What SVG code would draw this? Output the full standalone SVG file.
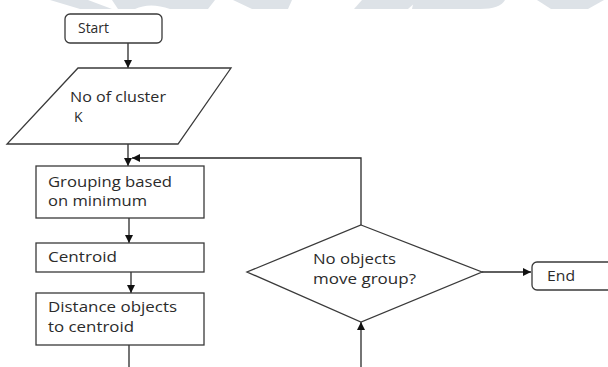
<svg xmlns="http://www.w3.org/2000/svg" width="608" height="367" viewBox="0 0 608 367">
<style>
.bg{fill:#ffffff}
.wm{fill:#dde2e7}
.shape{fill:#ffffff;stroke:#3a3a3a;stroke-width:1.3}
.line{fill:none;stroke:#2a2a2a;stroke-width:1.3}
.t{font-family:"Open Sans","Liberation Sans",sans-serif;font-size:14px;fill:#2b2b2b}
</style>
<defs>
<marker id="ah" viewBox="0 0 10 10" refX="10" refY="5" markerWidth="8" markerHeight="8" markerUnits="userSpaceOnUse" orient="auto">
<path d="M0,0 L10,5 L0,10 z" fill="#111"/>
</marker>
</defs>
<rect class="bg" x="0" y="0" width="608" height="367"/>
<g id="watermark">
<polygon class="wm" points="50,0 88,0 112,9 80,9"/>
<path class="wm" d="M112,0 L215,0 L208,9 L170,9 Q150,2 135,9 L118,9 z"/>
<polygon class="wm" points="233,0 292,0 288,9 252,9"/>
<polygon class="wm" points="362,0 418,0 408,9 354,9"/>
<path class="wm" d="M414,0 L505,0 Q500,9 480,9 L412,9 z"/>
<polygon class="wm" points="537,0 604,0 588,9 551,9"/>
</g>
<g id="connectors">
<line class="line" x1="128" y1="43" x2="128" y2="68" marker-end="url(#ah)"/>
<line class="line" x1="128" y1="144" x2="128" y2="166" marker-end="url(#ah)"/>
<polyline class="line" points="361,225 361,158 132,158" marker-end="url(#ah)"/>
<line class="line" x1="129" y1="218" x2="129" y2="243" marker-end="url(#ah)"/>
<line class="line" x1="131" y1="272" x2="131" y2="293" marker-end="url(#ah)"/>
<line class="line" x1="129" y1="345" x2="129" y2="367"/>
<line class="line" x1="361" y1="367" x2="361" y2="322" marker-end="url(#ah)"/>
<line class="line" x1="482" y1="272" x2="531" y2="272" marker-end="url(#ah)"/>
</g>
<g id="start">
<rect class="shape" x="65" y="14" width="97" height="29" rx="5"/>
<text class="t" x="78" y="33" textLength="31" lengthAdjust="spacingAndGlyphs">Start</text>
</g>
<g id="input-k">
<polygon class="shape" points="78,68 231,68 178,144 7,144"/>
<text class="t" x="70" y="102" textLength="96" lengthAdjust="spacingAndGlyphs">No of cluster</text>
<text class="t" x="74" y="122">K</text>
</g>
<g id="grouping">
<rect class="shape" x="36" y="166" width="168" height="52"/>
<text class="t" x="48" y="187" textLength="124" lengthAdjust="spacingAndGlyphs">Grouping based</text>
<text class="t" x="48" y="206" textLength="99" lengthAdjust="spacingAndGlyphs">on minimum</text>
</g>
<g id="centroid">
<rect class="shape" x="36" y="243" width="168" height="29"/>
<text class="t" x="48" y="262" textLength="69" lengthAdjust="spacingAndGlyphs">Centroid</text>
</g>
<g id="distance">
<rect class="shape" x="36" y="293" width="168" height="52"/>
<text class="t" x="48" y="312" textLength="129" lengthAdjust="spacingAndGlyphs">Distance objects</text>
<text class="t" x="48" y="332" textLength="86" lengthAdjust="spacingAndGlyphs">to centroid</text>
</g>
<g id="decision">
<polygon class="shape" points="361,225 482,272 361,322 247,272"/>
<text class="t" x="313" y="264" textLength="83" lengthAdjust="spacingAndGlyphs">No objects</text>
<text class="t" x="313" y="284" textLength="103" lengthAdjust="spacingAndGlyphs">move group?</text>
</g>
<g id="end">
<rect class="shape" x="532" y="262" width="90" height="28" rx="5"/>
<text class="t" x="547" y="281" textLength="28" lengthAdjust="spacingAndGlyphs">End</text>
</g>
</svg>
